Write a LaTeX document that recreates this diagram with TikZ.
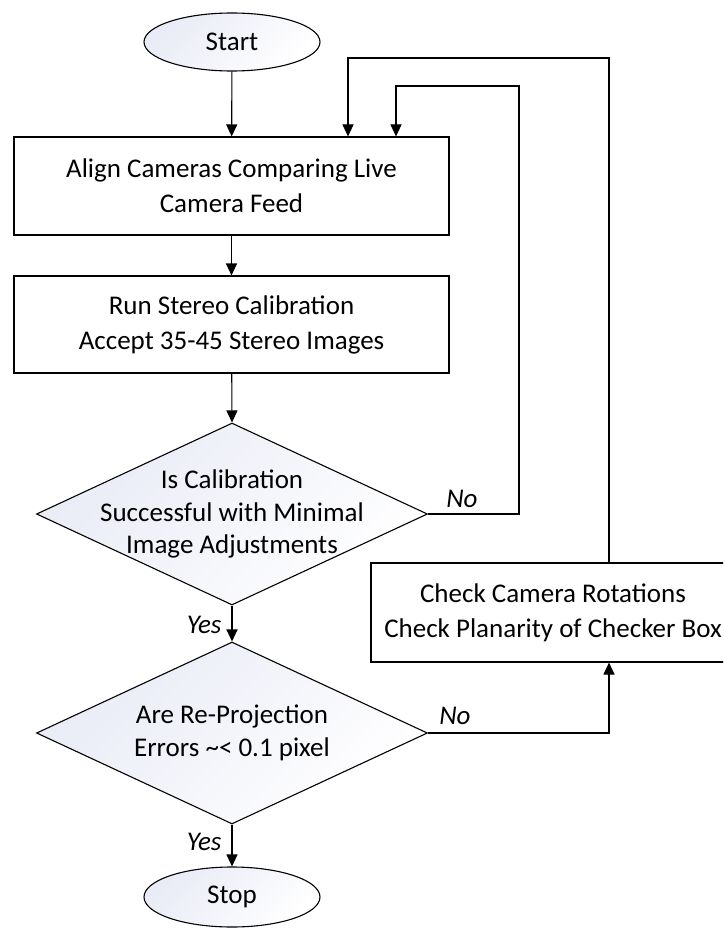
\documentclass[tikz,border=0pt]{standalone}
\usepackage{fontspec}
\setmainfont{Carlito}
\usetikzlibrary{shapes.geometric,arrows.meta}
\definecolor{lav}{HTML}{E9EBF6}
\tikzset{
  every node/.style={font=\fontsize{27}{35}\selectfont},
  procbox/.style={draw, line width=1.1pt, rectangle, align=center, inner sep=0pt},
  term/.style={draw, line width=1.1pt, ellipse, inner sep=0pt, minimum width=176pt, minimum height=58pt, left color=lav, right color=white, shading angle=45},
  dia/.style={draw, line width=1.1pt, diamond, inner sep=0pt, minimum width=391pt, minimum height=182pt, left color=lav, right color=white, shading angle=45},
  diatext/.style={align=center, font=\fontsize{27}{32.5}\selectfont},
  arr/.style={line width=1.1pt, -{Triangle[length=12pt,width=11pt]}},
  lab/.style={font=\fontsize{27}{30}\selectfont\itshape, inner sep=0pt},
}
\begin{document}
\begin{tikzpicture}[x=1pt,y=-1pt]
\useasboundingbox (0,0) rectangle (723,928);
\clip (0,0) rectangle (723,928);
\node[term] (start) at (232,42) {Start};
\node[procbox, minimum width=435pt, minimum height=98pt] (box1) at (231.5,186) {Align Cameras Comparing Live\\Camera Feed};
\node[procbox, minimum width=435pt, minimum height=97pt] (box2) at (231.5,324.5) {Run Stereo Calibration\\Accept 35-45 Stereo Images};
\node[dia] (d1) at (232,514) {};
\node[diatext] (t1) at (d1) {Is Calibration\\Successful with Minimal\\Image Adjustments};
\node[dia] (d2) at (232,733) {};
\node[diatext] (t2) at (d2) {Are Re-Projection\\Errors \textasciitilde< 0.1 pixel};
\node[term, minimum height=60pt] (stop) at (232,897) {Stop};
\node[procbox, minimum width=364pt, minimum height=99pt] (box3) at (553,612.5) {Check Camera Rotations\\Check Planarity of Checker Box};
\coordinate (r1) at (519,86);
\coordinate (k1) at (396,86);
\coordinate (r2) at (609,58);
\coordinate (k2) at (348,58);
\draw[arr] (start) -- (box1);
\draw[arr] (box1) -- (box2);
\draw[arr] (box2) -- (d1.north);
\draw[arr] (d1.south) -- node[lab, anchor=east, xshift=-10pt, yshift=-1pt] (y1) {Yes} (d2.north);
\draw[arr] (d2.south) -- node[lab, anchor=east, xshift=-10pt, yshift=3.5pt] (y2) {Yes} (stop.north);
\draw[arr] (d1.east) -| (r1) -- (k1) -- (k1 |- box1.north);
\node[lab, anchor=south west] (n1) at ([xshift=18pt,yshift=6pt]d1.east) {No};
\draw[arr] (d2.east) -| (box3.south -| r2);
\node[lab, anchor=south west] (n2) at ([xshift=11pt,yshift=8pt]d2.east) {No};
\draw[arr] (box3.north -| r2) -- (r2) -- (k2) -- (k2 |- box1.north);
\end{tikzpicture}
\end{document}
